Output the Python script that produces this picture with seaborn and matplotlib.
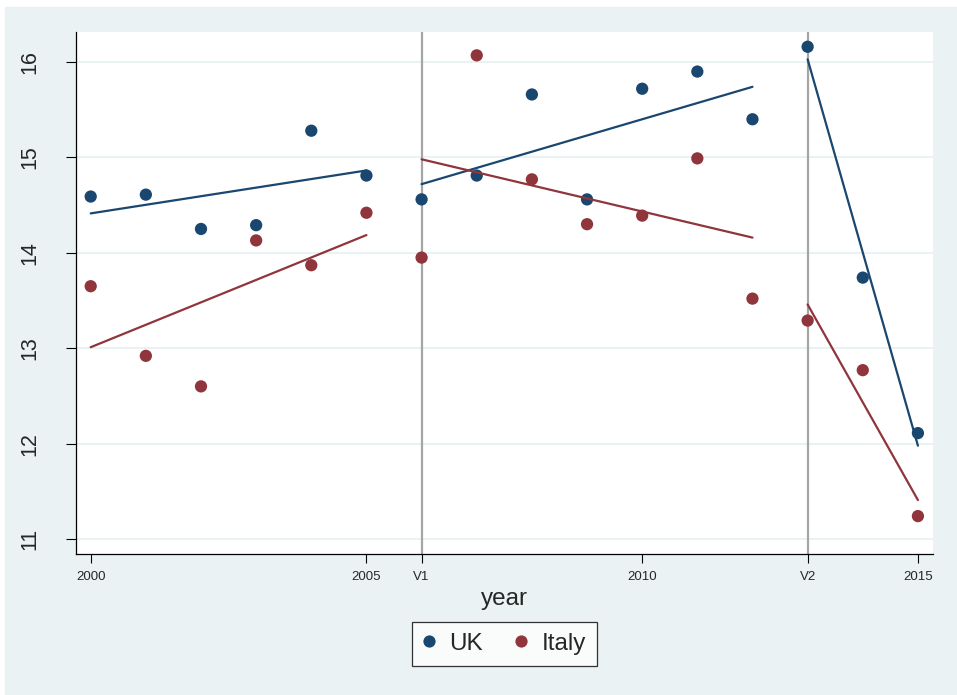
import numpy as np
import pandas as pd
import matplotlib
matplotlib.use('Agg')
import matplotlib.pyplot as plt
from matplotlib.patches import Rectangle
from matplotlib.lines import Line2D
import seaborn as sns

# data
years = list(range(2000, 2016))
uk = [14.59, 14.61, 14.25, 14.29, 15.28, 14.81, 14.56, 14.81,
      15.66, 14.56, 15.72, 15.90, 15.40, 16.16, 13.74, 12.11]
italy = [13.65, 12.92, 12.60, 14.13, 13.87, 14.42, 13.95, 16.07,
         14.77, 14.30, 14.39, 14.99, 13.52, 13.29, 12.77, 11.24]
countries = ['UK', 'Italy']
periods = [(2000, 2005), (2006, 2012), (2013, 2015)]
breaks = [2006, 2013]
xtick_pos = [2000, 2005, 2006, 2010, 2013, 2015]
xtick_labels = ['2000', '2005', 'V1', '2010', 'V2', '2015']
yticks = [11, 12, 13, 14, 15, 16]

colors = {'UK': '#1a476f', 'Italy': '#90353b'}
bg = '#eaf2f3'

df = pd.DataFrame({
    'year': years * 2,
    'value': uk + italy,
    'country': ['UK'] * len(years) + ['Italy'] * len(years),
})

sns.set_theme(style='white')
plt.rcParams['font.family'] = ['Liberation Sans', 'DejaVu Sans']

fig = plt.figure(figsize=(9.57, 6.95), dpi=100, facecolor='white')
fig.patches.append(Rectangle((5 / 957, 0), 1 - 5 / 957, 1 - 7 / 695,
                             transform=fig.transFigure, color=bg, zorder=-10))
ax = fig.add_axes([0.0791, 0.2029, 0.9749 - 0.0791, 0.9544 - 0.2029])
ax.set_facecolor('white')

# grid
for yv in yticks:
    ax.axhline(yv, color=bg, lw=1.4, zorder=0)
for b in breaks:
    ax.axvline(b, color='#a5a5a5', lw=1.6, zorder=1)

sns.scatterplot(data=df, x='year', y='value', hue='country', palette=colors,
                s=78, edgecolor='none', linewidth=0, legend=False, ax=ax, zorder=3)

# linear fit within each period
for c in countries:
    sub = df[df['country'] == c]
    for start, end in periods:
        seg = sub[(sub['year'] >= start) & (sub['year'] <= end)]
        sns.regplot(data=seg, x='year', y='value', scatter=False, ci=None,
                    truncate=True, color=colors[c], line_kws={'lw': 1.6, 'zorder': 4},
                    ax=ax)

ax.set_xlim(1999.728, 2015.273)
ax.set_ylim(10.843, 16.318)
ax.set_xticks(xtick_pos)
ax.set_xticklabels(xtick_labels, fontsize=9.5)
ax.set_yticks(yticks)
ax.set_yticklabels([str(v) for v in yticks], fontsize=15.5, rotation=90, va='center')
ax.tick_params(axis='y', length=7.2, width=0.8, color='black', pad=18, direction='out', left=True)
ax.tick_params(axis='x', length=6.5, width=0.8, color='black', pad=6, direction='out', bottom=True)
ax.set_xlabel('year', fontsize=17.5, labelpad=3)
ax.set_ylabel('')

for side in ['top', 'right']:
    ax.spines[side].set_visible(False)
for side in ['left', 'bottom']:
    ax.spines[side].set_color('black')
    ax.spines[side].set_linewidth(0.9)

handles = [Line2D([], [], marker='o', ls='', color=colors[c], markersize=8.8,
                  markeredgewidth=0) for c in countries]
leg = fig.legend(handles, countries, loc='center', bbox_to_anchor=(0.527, 0.0735),
                 ncol=2, fontsize=17.5, frameon=True, fancybox=False,
                 borderpad=0.45, handlelength=0.5, handletextpad=0.6,
                 columnspacing=1.3)
leg.get_frame().set_edgecolor('black')
leg.get_frame().set_linewidth(0.9)
leg.get_frame().set_facecolor('white')

fig.savefig('out.png', dpi=100, facecolor=fig.get_facecolor())
